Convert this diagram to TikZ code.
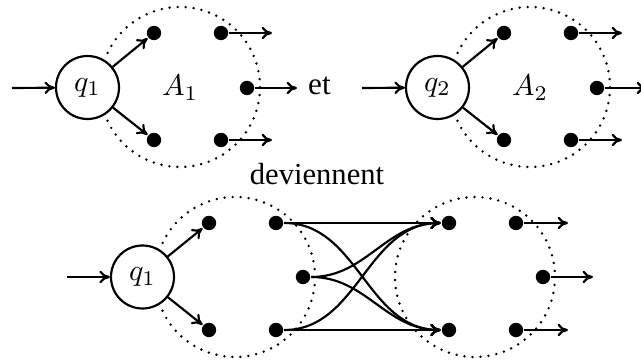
\documentclass[tikz,border=0pt]{standalone}
\usepackage{fontspec}
\newfontfamily\tms{Liberation Serif}
\usetikzlibrary{arrows.meta}
\begin{document}
\begin{tikzpicture}[x=0.3333pt,y=-0.3333pt,line width=0.72pt,
  st/.style={circle,draw,line width=0.72pt,minimum size=21pt,inner sep=0pt,fill=white},
  dot/.style={circle,fill=black,inner sep=0pt,minimum size=4.8pt},
  arr/.style={-{To[length=3.5pt,width=4.2pt]}},
  dots/.style={line width=0.9pt,dash pattern=on 0pt off 2.67pt,line cap=round}]
\useasboundingbox (0,0) rectangle (641,361);
% dotted borders
\draw[dots] (180,87) ++(155:80) arc[start angle=155,end angle=-155,radius=80];
\draw[dots] (530,87) ++(155:80) arc[start angle=155,end angle=-155,radius=80];
\draw[dots] (235,277) ++(155:80) arc[start angle=155,end angle=-155,radius=80];
\draw[dots] (475,277) circle[radius=80];
% top left automaton
\node[st] (q1) at (87.5,87.5) {$q_1$};
\node[dot] (a1) at (154,33) {};
\node[dot] (b1) at (221,33) {};
\node[dot] (c1) at (247,88) {};
\node[dot] (d1) at (154,140) {};
\node[dot] (e1) at (221,140) {};
\node (A1) at (180,88) {$A_1$};
\coordinate (i1) at (12,88);
\coordinate (ob1) at (272,33);
\coordinate (oc1) at (297,88);
\coordinate (oe1) at (272,140);
\draw[arr] (i1) -- (q1);
\draw[arr] (q1) -- (a1);
\draw[arr] (q1) -- (d1);
\draw[arr] (b1) -- (ob1);
\draw[arr] (c1) -- (oc1);
\draw[arr] (e1) -- (oe1);
\node[anchor=base,inner sep=0pt] (et) at (319.5,95) {\tms\fontsize{10.4}{12}\selectfont et};
% top right automaton
\node[st] (q2) at (437.5,87.5) {$q_2$};
\node[dot] (a2) at (504,33) {};
\node[dot] (b2) at (571,33) {};
\node[dot] (c2) at (597,88) {};
\node[dot] (d2) at (504,140) {};
\node[dot] (e2) at (571,140) {};
\node (A2) at (530,88) {$A_2$};
\coordinate (i2) at (362,88);
\coordinate (ob2) at (622,33);
\coordinate (oc2) at (647,88);
\coordinate (oe2) at (622,140);
\draw[arr] (i2) -- (q2);
\draw[arr] (q2) -- (a2);
\draw[arr] (q2) -- (d2);
\draw[arr] (b2) -- (ob2);
\draw[arr] (c2) -- (oc2);
\draw[arr] (e2) -- (oe2);
% label
\node[anchor=base,inner sep=0pt] (dev) at (317,185) {\tms\fontsize{10.2}{12}\selectfont deviennent};
% bottom merged automaton
\node[st] (q3) at (142.5,277) {$q_1$};
\node[dot] (a3) at (209,223) {};
\node[dot] (b3) at (276,223) {};
\node[dot] (c3) at (303,277) {};
\node[dot] (d3) at (209,330) {};
\node[dot] (e3) at (276,330) {};
\coordinate (i3) at (67,277);
\draw[arr] (i3) -- (q3);
\draw[arr] (q3) -- (a3);
\draw[arr] (q3) -- (d3);
\node[dot] (a4) at (449,223) {};
\node[dot] (b4) at (516,223) {};
\node[dot] (c4) at (543,277) {};
\node[dot] (d4) at (449,330) {};
\node[dot] (e4) at (516,330) {};
\coordinate (ob4) at (568,223);
\coordinate (oc4) at (593,277);
\coordinate (oe4) at (568,330);
\draw[arr] (b4) -- (ob4);
\draw[arr] (c4) -- (oc4);
\draw[arr] (e4) -- (oe4);
\draw[arr] (b3) -- (a4);
\draw[arr] (e3) -- (d4);
\draw[arr] (b3) to[out=0,in=180] (d4);
\draw[arr] (e3) to[out=0,in=180] (a4);
\draw[arr] (c3) to[out=0,in=180] (a4);
\draw[arr] (c3) to[out=0,in=180] (d4);
\end{tikzpicture}
\end{document}
